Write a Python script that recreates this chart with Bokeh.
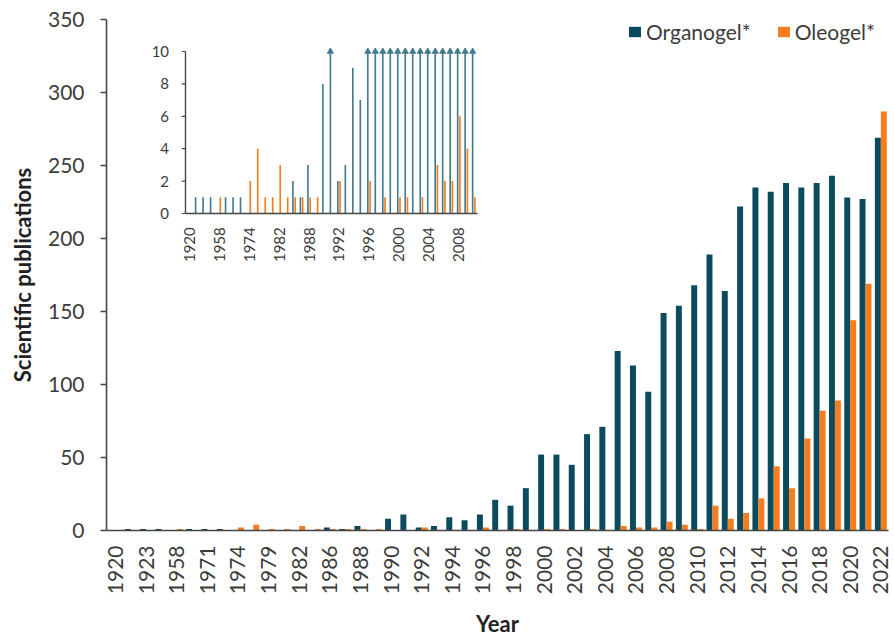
import numpy as np
from bokeh.plotting import figure
from bokeh.models import (ColumnDataSource, Range1d, FixedTicker, SingleIntervalTicker,
                          Legend, LegendItem)
from bokeh.transform import dodge
from bokeh.core.properties import value
from bokeh.embed import file_html
from bokeh.resources import INLINE

# ---------------- data ----------------
years = ["1920", "1921", "1923", "1924", "1958", "1969", "1971", "1973", "1974", "1976",
         "1979", "1980", "1982", "1984", "1986", "1987", "1988", "1989", "1990", "1991",
         "1992", "1993", "1994", "1995", "1996", "1997", "1998", "1999", "2000", "2001",
         "2002", "2003", "2004", "2005", "2006", "2007", "2008", "2009", "2010", "2011",
         "2012", "2013", "2014", "2015", "2016", "2017", "2018", "2019", "2020", "2021",
         "2022"]
organogel = [0, 1, 1, 1, 0, 1, 1, 1, 0, 0,
             0, 0, 0, 0, 2, 1, 3, 0, 8, 11,
             2, 3, 9, 7, 11, 21, 17, 29, 52, 52,
             45, 66, 71, 123, 113, 95, 149, 154, 168, 189,
             164, 222, 235, 232, 238, 235, 238, 243, 228, 227,
             269]
oleogel = [0, 0, 0, 0, 1, 0, 0, 0, 2, 4,
           1, 1, 3, 1, 1, 1, 1, 1, 0, 0,
           2, 0, 0, 0, 2, 0, 1, 0, 1, 1,
           0, 1, 0, 3, 2, 2, 6, 4, 1, 17,
           8, 12, 22, 44, 29, 63, 82, 89, 144, 169,
           287]
main_y_max = 350
main_y_step = 50
inset_last_year = "2010"
inset_cap = 10
inset_y_ticks = [0, 2, 4, 6, 8, 10]
main_label_step = 2
inset_label_step = 4

# ---------------- style ----------------
TEAL = "#0c4a5d"
ORANGE = "#f47e1f"
INSET_TEAL = "#437b8f"
TXT = "#3c3c3c"
AXIS = "#454545"
FONT = "Lato"

W, H = 894, 640
FL, FR, FT, FB = 106, 888, 19, 530          # frame edges in figure pixels
n = len(years)

p = figure(width=W, height=H, output_backend="svg", toolbar_location=None,
           x_range=Range1d(-0.59, n - 0.5), y_range=Range1d(0, main_y_max),
           min_border_left=FL, min_border_right=W - FR, min_border_top=FT,
           min_border_bottom=H - FB)
p.outline_line_color = None
p.xgrid.grid_line_color = None
p.ygrid.grid_line_color = None
p.background_fill_color = "white"
p.border_fill_color = "white"

idx = list(range(n))
src = ColumnDataSource(dict(idx=idx, org=organogel, ole=oleogel))
r1 = p.vbar(x=dodge("idx", -0.195), top="org", width=0.39, source=src,
            fill_color=TEAL, line_color=None)
r2 = p.vbar(x=dodge("idx", 0.195), top="ole", width=0.39, source=src,
            fill_color=ORANGE, line_color=None)

# axes
p.xaxis.ticker = FixedTicker(ticks=idx[::main_label_step])
p.xaxis.major_label_overrides = {i: years[i] for i in idx[::main_label_step]}
p.xaxis.major_label_orientation = np.pi / 2
p.xaxis.minor_tick_line_color = None
p.xaxis.major_label_standoff = 9
p.xaxis.axis_label = "Year"
p.xaxis.axis_label_standoff = 13

p.yaxis.ticker = SingleIntervalTicker(interval=main_y_step, num_minor_ticks=0)
p.yaxis.minor_tick_line_color = None
p.yaxis.major_tick_out = 6
p.yaxis.major_tick_in = 0
p.yaxis.major_label_standoff = 16
p.yaxis.axis_label = "Scientific publications"
p.yaxis.axis_label_standoff = 9

for ax in (p.xaxis, p.yaxis):
    ax.axis_line_color = AXIS
    ax.axis_line_width = 1.6
    ax.major_tick_line_width = 1.3
    ax.major_label_text_font = FONT
    ax.major_label_text_font_size = "21px"
    ax.major_label_text_color = TXT
    ax.axis_label_text_font = FONT
    ax.axis_label_text_font_size = "22px"
    ax.axis_label_text_font_style = "bold"
    ax.axis_label_text_color = "#222222"
p.yaxis.major_tick_line_color = AXIS
p.xaxis.major_tick_line_color = None

# legend (location: bottom-left corner of the legend box, px from the frame's bottom-left)
legend = Legend(items=[LegendItem(label="Organogel*", renderers=[r1]),
                       LegendItem(label="Oleogel*", renderers=[r2])],
                orientation="horizontal", location=(521, 486))
legend.label_text_font = FONT
legend.label_text_font_size = "21px"
legend.label_text_color = TXT
legend.glyph_width = 15
legend.glyph_height = 13
legend.label_standoff = 4
legend.spacing = 25
legend.padding = 0
legend.margin = 0
legend.border_line_color = None
legend.background_fill_alpha = 0
p.add_layout(legend)

# ---------------- inset (drawn on extra ranges) ----------------
n_in = years.index(inset_last_year) + 1
IL, IR, IB, IT = 185, 477, 213, 51        # inset plot box in figure pixels
sx = (IR - IL) / n_in
sy = (IB - IT) / inset_y_ticks[-1]
ix0 = -0.5 - (IL - FL) / sx
iy0 = -(FB - IB) / sy
p.extra_x_ranges = {"ix": Range1d(ix0, ix0 + (FR - FL) / sx)}
p.extra_y_ranges = {"iy": Range1d(iy0, iy0 + (FB - FT) / sy)}
kw = dict(x_range_name="ix", y_range_name="iy")

org_in = np.array(organogel[:n_in])
ole_in = np.array(oleogel[:n_in])
isrc = ColumnDataSource(dict(idx=idx[:n_in], org=np.minimum(org_in, inset_cap), ole=ole_in))
p.vbar(x=dodge("idx", -0.15), top="org", width=0.22, source=isrc,
       fill_color=INSET_TEAL, line_color=None, **kw)
p.vbar(x=dodge("idx", 0.15), top="ole", width=0.22, source=isrc,
       fill_color=ORANGE, line_color=None, **kw)
capped = [i for i in range(n_in) if organogel[i] > inset_cap]
asrc = ColumnDataSource(dict(idx=capped, y=[inset_cap] * len(capped)))
p.scatter(x=dodge("idx", -0.15), y="y", marker="triangle", size=6, source=asrc,
          fill_color=INSET_TEAL, line_color=INSET_TEAL, **kw)

# inset axis lines
p.segment(x0=[-0.5, -0.5], y0=[0, 0], x1=[-0.5, n_in - 0.5],
          y1=[inset_y_ticks[-1], 0], line_color=AXIS, line_width=1.4, **kw)
p.segment(x0=[-0.5] * len(inset_y_ticks), y0=inset_y_ticks,
          x1=[-0.5 - 0.5] * len(inset_y_ticks), y1=inset_y_ticks,
          line_color=AXIS, line_width=1.2, **kw)
p.text(x=[-0.5 - 2.2] * len(inset_y_ticks), y=inset_y_ticks,
       text=[str(t) for t in inset_y_ticks], text_align="right", text_baseline="middle",
       text_font=value(FONT), text_font_size="15px", text_color=TXT, **kw)
lab_idx = idx[:n_in:inset_label_step]
p.text(x=lab_idx, y=[-0.85] * len(lab_idx), text=[years[i] for i in lab_idx],
       angle=np.pi / 2, text_align="right", text_baseline="middle",
       text_font=value(FONT), text_font_size="15px", text_color=TXT, **kw)

open("out.html", "w").write(file_html(p, INLINE))
